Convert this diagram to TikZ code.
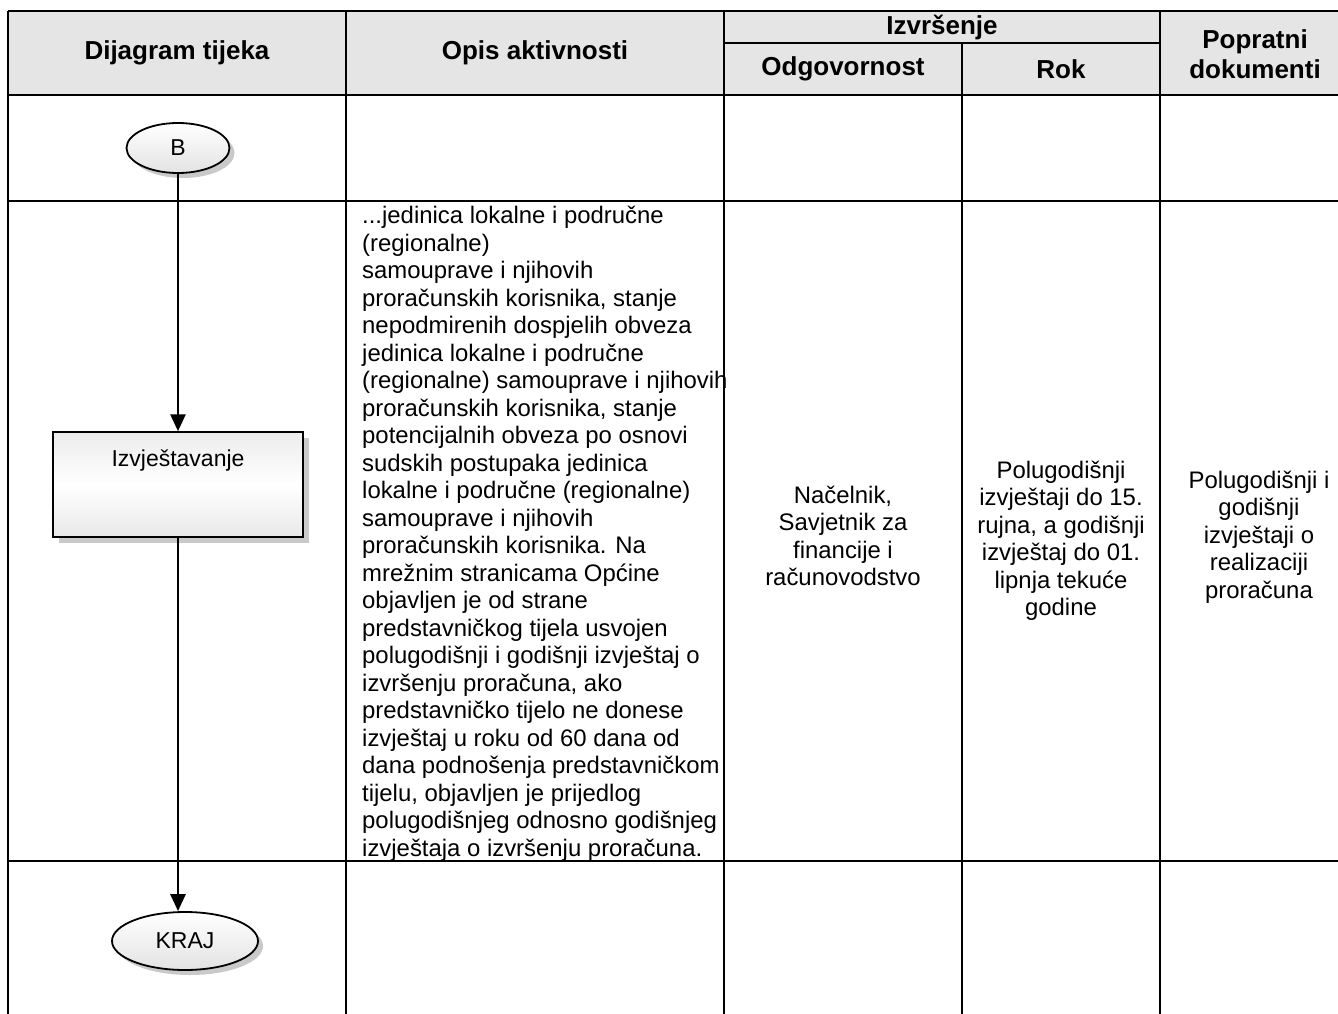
\documentclass[tikz,border=0pt]{standalone}
\usepackage{fontspec}
\setmainfont{Liberation Sans}
\usetikzlibrary{arrows.meta,shapes.geometric,shadows}

\tikzset{
  tbl/.style={line width=2.8pt},
  hdr/.style={font=\bfseries\fontsize{26}{30}\selectfont, align=center, inner sep=0pt},
  txt/.style={font=\fontsize{23.9}{27.5}\selectfont, align=center, inner sep=0pt},
  term/.style={ellipse, draw, line width=1.8pt, top color=white, bottom color=gray!22,
    drop shadow={shadow xshift=5pt, shadow yshift=-5pt, fill=gray!85},
    font=\fontsize{23}{27}\selectfont, inner sep=0pt},
  procbox/.style={rectangle, draw, line width=1.5pt, top color=gray!15, bottom color=gray!18,
    middle color=white, drop shadow={shadow xshift=6pt, shadow yshift=-6pt, fill=gray!85},
    minimum width=250pt, minimum height=105pt},
  flow/.style={line width=2.8pt, -{Triangle[length=17pt,width=15pt]}},
}

\begin{document}
\begin{tikzpicture}[x=1pt, y=-1pt]
  \useasboundingbox (0,0) rectangle (1338,1014);
  \clip (0,0) rectangle (1338,1014);
  % zaglavlje tablice
  \fill[gray!20] (8,11) rectangle (1350,95);
  \foreach \y in {11,95,201,861}{ \draw[tbl] (8,\y) -- (1350,\y); }
  \draw[tbl] (724,43) -- (1160,43);
  \foreach \x in {8,346,724,1160}{ \draw[tbl] (\x,11) -- (\x,1014); }
  \draw[tbl] (962,43) -- (962,1014);

  \node[hdr] (hdia) at (177,53) {Dijagram tijeka};
  \node[hdr] (hopis) at (535,53) {Opis aktivnosti};
  \node[hdr] (hizv) at (942,27) {Izvršenje};
  \node[hdr] (hodg) at (843,69) {Odgovornost};
  \node[hdr] (hrok) at (1061,69) {Rok};
  \node[hdr] (hpop) at (1255,54) {Popratni\\dokumenti};

  % dijagram tijeka
  \node[term, minimum width=103pt, minimum height=50pt] (b) at (178,148) {B};
  \node[procbox, label={[anchor=center, yshift=-29pt, font=\fontsize{23}{27}\selectfont]north:Izvještavanje}]
    (izv) at (178,484.5) {};
  \node[term, minimum width=146pt, minimum height=58pt] (kraj) at (185,941) {KRAJ};
  \draw[flow] (b) -- (b |- izv.north);
  \draw[flow] (izv) -- (izv |- kraj.north);

  % opis i izvrsenje
  \node[txt, align=left, anchor=north west] (opis) at (362,206) {...jedinica lokalne i područne\\
    (regionalne)\\
    samouprave i njihovih\\
    proračunskih korisnika, stanje\\
    nepodmirenih dospjelih obveza\\
    jedinica lokalne i područne\\
    (regionalne) samouprave i njihovih\\
    proračunskih korisnika, stanje\\
    potencijalnih obveza po osnovi\\
    sudskih postupaka jedinica\\
    lokalne i područne (regionalne)\\
    samouprave i njihovih\\
    proračunskih korisnika. Na\\
    mrežnim stranicama Općine\\
    objavljen je od strane\\
    predstavničkog tijela usvojen\\
    polugodišnji i godišnji izvještaj o\\
    izvršenju proračuna, ako\\
    predstavničko tijelo ne donese\\
    izvještaj u roku od 60 dana od\\
    dana podnošenja predstavničkom\\
    tijelu, objavljen je prijedlog\\
    polugodišnjeg odnosno godišnjeg\\
    izvještaja o izvršenju proračuna.};
  \node[txt] (odg) at (843,536) {Načelnik,\\Savjetnik za\\financije i\\računovodstvo};
  \node[txt] (rok) at (1061,541) {Polugodišnji\\izvještaji do 15.\\rujna, a godišnji\\izvještaj do 01.\\lipnja tekuće\\godine};
  \node[txt] (pop) at (1259,537) {Polugodišnji i\\godišnji\\izvještaji o\\realizaciji\\proračuna};
\end{tikzpicture}
\end{document}
